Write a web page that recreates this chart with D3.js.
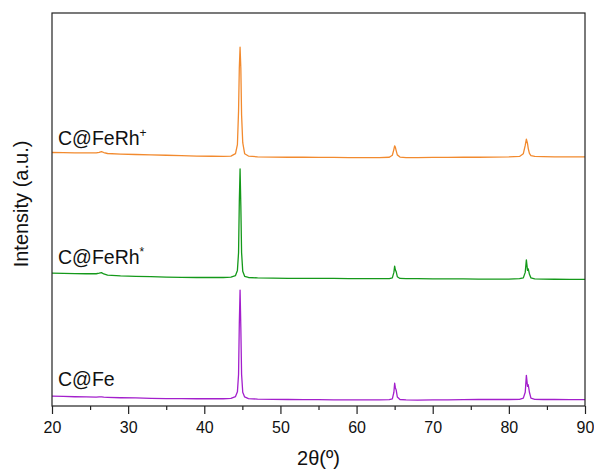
<!DOCTYPE html>
<html>
<head>
  <meta charset="utf-8">
  <script src="https://cdn.jsdelivr.net/npm/d3@7"></script>
  <style type="text/css">
    body { margin: 0; background: #fff; }
    svg { font-family: Arial, "Liberation Sans", sans-serif; }
  </style>
</head>
<body>
  <script type="text/javascript">
    const width = 594;
    const height = 469;

    // 2theta grid shared by all patterns
    const twoTheta = [20, 21.5, 23, 24.5, 25.8, 26.2, 26.5, 26.8, 27.3, 29,
      31, 33, 35, 37, 39, 41, 42.5, 43.5, 44.1, 44.35,
      44.5, 44.6, 44.7, 44.8, 44.9, 45.05, 45.3, 45.8, 47, 49,
      51, 53, 55, 57, 59, 61, 63, 64.3, 64.7, 64.9,
      65.0, 65.1, 65.2, 65.35, 65.7, 66.5, 68, 70, 72, 74,
      76, 78, 80, 81.4, 81.9, 82.15, 82.3, 82.45, 82.55, 82.7,
      82.9, 83.4, 84.5, 86, 88, 90];

    const cFe = [2.5, 2.45, 2.35, 2.3, 2.25, 2.3, 2.3, 2.25, 2.2, 2.1,
      2.05, 1.95, 1.9, 1.9, 1.85, 1.85, 1.85, 1.95, 2.4, 3.6,
      8, 21, 29.5, 20, 8, 3.5, 2.3, 1.9, 1.75, 1.7,
      1.65, 1.6, 1.6, 1.55, 1.55, 1.55, 1.55, 1.6, 1.8, 3.5,
      5.8, 4.6, 4.1, 2.3, 1.65, 1.55, 1.5, 1.55, 1.55, 1.6,
      1.65, 1.7, 1.65, 1.7, 2.0, 3.5, 7.8, 5.0, 5.4, 3.5,
      2.0, 1.7, 1.65, 1.65, 1.6, 1.6];

    const cFeRhStar = [33.8, 33.75, 33.7, 33.65, 33.65, 33.8, 33.95, 33.6, 33.3, 33.1,
      33.0, 32.9, 32.8, 32.75, 32.7, 32.7, 32.7, 32.8, 33.2, 34.5,
      39, 52, 60.3, 51, 39, 34.3, 33.0, 32.7, 32.6, 32.55,
      32.5, 32.5, 32.45, 32.45, 32.4, 32.4, 32.4, 32.4, 32.6, 34.0,
      35.6, 34.6, 34.2, 32.9, 32.45, 32.4, 32.4, 32.35, 32.35, 32.35,
      32.3, 32.3, 32.3, 32.4, 32.6, 34.0, 37.2, 34.5, 34.9, 33.5,
      32.6, 32.35, 32.3, 32.25, 32.2, 32.2];

    const cFeRhPlus = [64.5, 64.45, 64.4, 64.4, 64.4, 64.55, 64.75, 64.5, 64.25, 64.1,
      64.0, 63.9, 63.8, 63.7, 63.6, 63.55, 63.5, 63.6, 64.2, 66.5,
      75, 86, 91.3, 86, 74, 67, 64.2, 63.6, 63.4, 63.35,
      63.3, 63.3, 63.25, 63.25, 63.2, 63.2, 63.2, 63.3, 63.8, 65.3,
      66.2, 65.8, 65.0, 63.9, 63.35, 63.2, 63.2, 63.25, 63.25, 63.3,
      63.3, 63.35, 63.4, 63.5, 64.2, 66.3, 67.9, 66.8, 65.5, 64.3,
      63.7, 63.5, 63.45, 63.4, 63.4, 63.4];

    const seriesColors = ['#a31fcc', '#14991a', '#f28a2e'];
    const xTicks = [20, 30, 40, 50, 60, 70, 80, 90];
    const xMinorTicks = [25, 35, 45, 55, 65, 75, 85];

    const margin = { top: 13, right: 9, bottom: 63, left: 52 };

    const svg = d3.select('body').append('svg')
      .attr('width', width)
      .attr('height', height);

    const x = d3.scaleLinear().domain([20, 90])
      .range([margin.left, width - margin.right]);
    const y = d3.scaleLinear().domain([0, 100])
      .range([height - margin.bottom, margin.top]);

    const line = d3.line()
      .x(d => x(d[0]))
      .y(d => y(d[1]));

    const allSeries = [cFe, cFeRhStar, cFeRhPlus];

    svg.append('g').selectAll('path')
      .data(allSeries)
      .join('path')
      .attr('d', vals => line(twoTheta.map((t, i) => [t, vals[i]])))
      .attr('fill', 'none')
      .attr('stroke', (d, i) => seriesColors[i])
      .attr('stroke-width', 1.3)
      .attr('stroke-linejoin', 'round');

    // frame
    svg.append('rect')
      .attr('x', margin.left)
      .attr('y', margin.top)
      .attr('width', width - margin.left - margin.right)
      .attr('height', height - margin.top - margin.bottom)
      .attr('fill', 'none')
      .attr('stroke', '#222')
      .attr('stroke-width', 1.2);

    // bottom axis, major + minor ticks
    const xAxis = svg.append('g')
      .attr('transform', `translate(0,${height - margin.bottom})`)
      .call(d3.axisBottom(x).tickValues(xTicks).tickSize(8).tickPadding(8).tickFormat(d3.format('d')));
    xAxis.select('.domain').remove();
    xAxis.selectAll('line').attr('stroke', '#222').attr('stroke-width', 1.2);
    xAxis.selectAll('text').attr('font-size', 16).attr('fill', '#111')
      .attr('font-family', 'Arial, "Liberation Sans", sans-serif');

    const minor = svg.append('g')
      .attr('transform', `translate(0,${height - margin.bottom})`)
      .call(d3.axisBottom(x).tickValues(xMinorTicks).tickSize(4).tickFormat(''));
    minor.select('.domain').remove();
    minor.selectAll('line').attr('stroke', '#222').attr('stroke-width', 1.2);

    // axis titles
    svg.append('text')
      .attr('x', (margin.left + width - margin.right) / 2)
      .attr('y', 465)
      .attr('text-anchor', 'middle')
      .attr('font-size', 20)
      .attr('fill', '#111')
      .text('2θ(º)');

    svg.append('text')
      .attr('transform', 'translate(28,204) rotate(-90)')
      .attr('text-anchor', 'middle')
      .attr('font-size', 20)
      .attr('fill', '#111')
      .text('Intensity (a.u.)');

    // series labels
    const labels = [
      { base: 'C@Fe', sup: '', y: 386 },
      { base: 'C@FeRh', sup: '*', y: 264 },
      { base: 'C@FeRh', sup: '+', y: 145 }
    ];
    labels.forEach(l => {
      const t = svg.append('text')
        .attr('x', 58)
        .attr('y', l.y)
        .attr('font-size', 19.5)
        .attr('fill', '#111')
        .text(l.base);
      if (l.sup) {
        t.append('tspan')
          .attr('dy', -8)
          .attr('font-size', 12)
          .text(l.sup);
      }
    });
  </script>
</body>
</html>
